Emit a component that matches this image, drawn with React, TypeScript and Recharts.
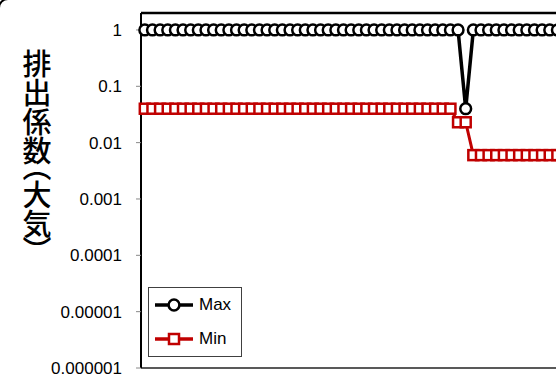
import { LineChart, Line, XAxis, YAxis, Legend, ReferenceLine } from "recharts";

// category index along the x axis (labels are cut off in the reference)
const categories = [
  1, 2, 3, 4, 5, 6, 7, 8, 9, 10, 11, 12, 13, 14, 15, 16, 17, 18, 19, 20,
  21, 22, 23, 24, 25, 26, 27, 28, 29, 30, 31, 32, 33, 34, 35, 36, 37, 38, 39, 40,
  41, 42, 43, 44, 45, 46, 47, 48, 49, 50, 51, 52, 53, 54, 55, 56, 57, 58, 59, 60,
];

const maxValues = [
  1, 1, 1, 1, 1, 1, 1, 1, 1, 1, 1, 1, 1, 1, 1, 1, 1, 1, 1, 1,
  1, 1, 1, 1, 1, 1, 1, 1, 1, 1, 1, 1, 1, 1, 1, 1, 1, 1, 1, 1,
  1, 1, 0.04, 1, 1, 1, 1, 1, 1, 1, 1, 1, 1, 1, 1, 1, 1, 1, 1, 1,
];

const minValues = [
  0.04, 0.04, 0.04, 0.04, 0.04, 0.04, 0.04, 0.04, 0.04, 0.04,
  0.04, 0.04, 0.04, 0.04, 0.04, 0.04, 0.04, 0.04, 0.04, 0.04,
  0.04, 0.04, 0.04, 0.04, 0.04, 0.04, 0.04, 0.04, 0.04, 0.04,
  0.04, 0.04, 0.04, 0.04, 0.04, 0.04, 0.04, 0.04, 0.04, 0.04,
  0.04, 0.023, 0.023, 0.006, 0.006, 0.006, 0.006, 0.006, 0.006, 0.006,
  0.006, 0.006, 0.006, 0.006, 0.006, 0.006, 0.006, 0.006, 0.006, 0.006,
];

const yTicks = [0.000001, 0.00001, 0.0001, 0.001, 0.01, 0.1, 1];
const yTickLabels = ["0.000001", "0.00001", "0.0001", "0.001", "0.01", "0.1", "1"];
const yTop = 2;
const yTitle = "排出係数（大気）";
const seriesNames = ["Max", "Min"];

const data = categories.map((c, i) => ({
  x: c - 0.5,
  max: maxValues[i],
  min: minValues[i],
}));
const xTicks = [0, ...categories];

const RED = "#C00000";

const SquareDot = (props: any) => {
  const { cx, cy } = props;
  if (cx == null || cy == null) return null;
  return (
    <rect x={cx - 5} y={cy - 5} width={10} height={10} fill="#fff" stroke={RED} strokeWidth={2.5} />
  );
};

const YTitle = (props: any) => {
  const vb = props.viewBox || { x: 0, y: 0 };
  return (
    <text
      x={vb.x + 37}
      y={vb.y + 138}
      textAnchor="middle"
      fill="#000"
      style={{
        writingMode: "vertical-rl",
        fontFamily: "'Noto Sans CJK JP'",
        fontSize: 29,
        fontWeight: 500,
        fontFeatureSettings: '"vpal"',
      }}
    >
      {yTitle}
    </text>
  );
};

const LegendBox = () => (
  <div
    style={{
      width: 92,
      height: 68,
      border: "1px solid #404040",
      background: "#fff",
      fontFamily: "'Liberation Sans'",
      fontSize: 17,
      color: "#000",
    }}
  >
    {seriesNames.map((name, i) => (
      <div key={name} style={{ display: "flex", alignItems: "center", height: 34, paddingLeft: 6 }}>
        <svg width={38} height={16} style={{ marginRight: 6 }}>
          <line x1={0} y1={8} x2={38} y2={8} stroke={i === 0 ? "#000" : RED} strokeWidth={3.5} />
          {i === 0 ? (
            <circle cx={19} cy={8} r={5.4} fill="#fff" stroke="#000" strokeWidth={2.5} />
          ) : (
            <rect x={14} y={3} width={10} height={10} fill="#fff" stroke={RED} strokeWidth={2.5} />
          )}
        </svg>
        <span>{name}</span>
      </div>
    ))}
  </div>
);

export default function App() {
  return (
    <div
      style={{
        position: "absolute",
        left: 0,
        top: 0,
        width: 556,
        height: 374,
        overflow: "hidden",
        background: "#fff",
      }}
    >
      {/* rounded chart-area border; only its top-left corner shows */}
      <div
        style={{
          position: "absolute",
          left: -2.5,
          top: -2.5,
          width: 700,
          height: 500,
          border: "2.5px solid #000",
          borderRadius: 10,
        }}
      />
      <div style={{ position: "absolute", left: 0, top: 0 }}>
        <LineChart
          width={620}
          height={400}
          data={data}
          margin={{ top: 13, right: 20.6, left: 0, bottom: 0 }}
        >
          <XAxis
            type="number"
            dataKey="x"
            domain={[0, categories.length]}
            ticks={xTicks}
            interval={0}
            tick={false}
            height={32}
            axisLine={{ stroke: "#595959", strokeWidth: 2 }}
            tickLine={{ stroke: "#999", strokeWidth: 1 }}
            tickSize={6}
          />
          <YAxis
            scale="log"
            domain={[0.000001, yTop]}
            allowDataOverflow
            ticks={yTicks}
            interval={0}
            width={141}
            tickSize={5}
            tickMargin={14}
            tickFormatter={(v: number) => yTickLabels[yTicks.indexOf(v)] ?? String(v)}
            tick={{ fill: "#000", fontSize: 17, fontFamily: "'Liberation Sans'" }}
            axisLine={{ stroke: "#000", strokeWidth: 2 }}
            tickLine={{ stroke: "#888", strokeWidth: 1 }}
            label={<YTitle />}
          />
          <ReferenceLine y={yTop} stroke="#000" strokeWidth={2.5} />
          <Line
            dataKey="max"
            name={seriesNames[0]}
            stroke="#000"
            strokeWidth={3.5}
            dot={{ r: 5.4, fill: "#fff", stroke: "#000", strokeWidth: 2.5 }}
            isAnimationActive={false}
          />
          <Line
            dataKey="min"
            name={seriesNames[1]}
            stroke={RED}
            strokeWidth={3}
            dot={<SquareDot />}
            isAnimationActive={false}
          />
          <Legend
            layout="horizontal"
            verticalAlign="middle"
            align="center"
            content={<LegendBox />}
            wrapperStyle={{ left: 148, top: 287, width: 94, height: 70 }}
          />
        </LineChart>
      </div>
    </div>
  );
}
